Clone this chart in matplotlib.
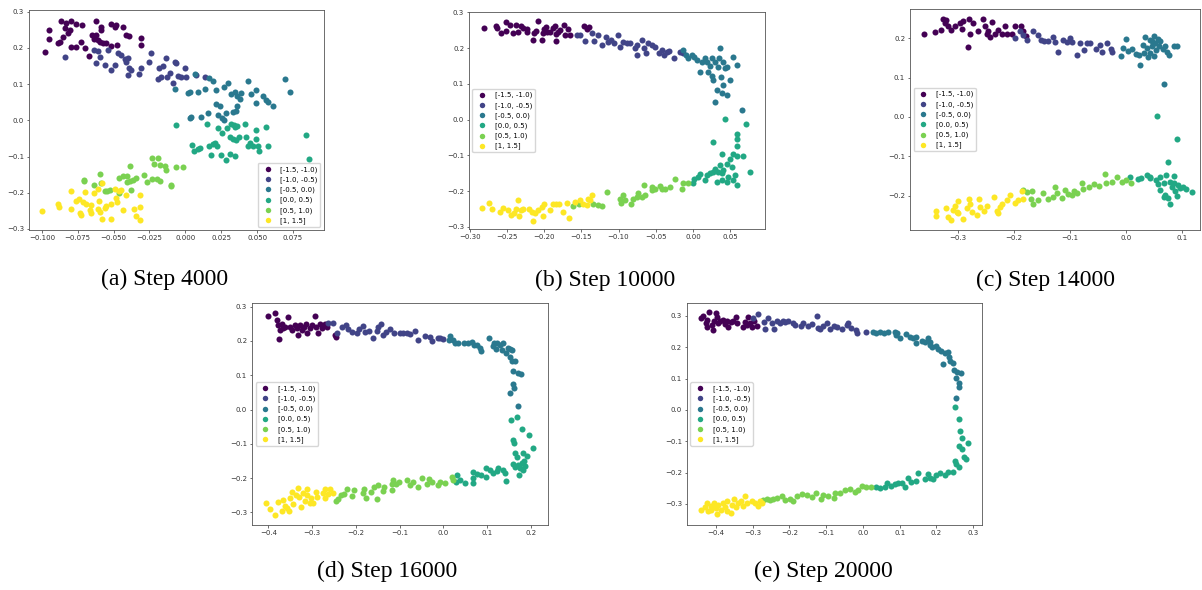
import numpy as np
import matplotlib
matplotlib.use("Agg")
import matplotlib.pyplot as plt
from matplotlib.ticker import MultipleLocator

labels = ['[-1.5, -1.0)', '[-1.0, -0.5)', '[-0.5, 0.0)', '[0.0, 0.5)', '[0.5, 1.0)', '[1, 1.5]']
captions = ['(a) Step 4000', '(b) Step 10000', '(c) Step 14000', '(d) Step 16000', '(e) Step 20000']

# ---- (a) step 4000 ----
a0 = [(-0.0977, 0.188), (-0.0947, 0.249), (-0.0951, 0.224), (-0.0865, 0.275), (-0.083, 0.268), (-0.0796, 0.275),
      (-0.0837, 0.256), (-0.0807, 0.249), (-0.082, 0.240), (-0.0761, 0.265), (-0.072, 0.263), (-0.0877, 0.217),
      (-0.089, 0.213), (-0.0854, 0.231), (-0.080, 0.203), (-0.076, 0.203), (-0.0726, 0.217), (-0.0696, 0.199),
      (-0.062, 0.275), (-0.0586, 0.259), (-0.059, 0.251), (-0.065, 0.236), (-0.062, 0.236), (-0.0637, 0.224),
      (-0.061, 0.222), (-0.0598, 0.217), (-0.0575, 0.215), (-0.067, 0.179), (-0.0517, 0.266), (-0.0493, 0.259),
      (-0.048, 0.263), (-0.0435, 0.257), (-0.0412, 0.236), (-0.039, 0.233), (-0.0475, 0.208), (-0.0556, 0.213),
      (-0.0308, 0.228), (-0.0312, 0.208), (-0.0515, 0.205)]
a1 = [(-0.0842, 0.174), (-0.0638, 0.194), (-0.061, 0.192), (-0.062, 0.158), (-0.0596, 0.176), (-0.0563, 0.153),
      (-0.054, 0.194), (-0.0517, 0.139), (-0.0493, 0.153), (-0.047, 0.185), (-0.0447, 0.180), (-0.0424, 0.169),
      (-0.0412, 0.162), (-0.040, 0.171), (-0.039, 0.146), (-0.0377, 0.139), (-0.040, 0.125), (-0.032, 0.128),
      (-0.0308, 0.144), (-0.0255, 0.162), (-0.024, 0.185), (-0.0191, 0.113), (-0.0184, 0.146), (-0.0157, 0.149),
      (-0.0168, 0.119), (-0.0133, 0.171), (-0.0126, 0.121), (-0.0110, 0.132), (-0.0087, 0.102), (-0.0075, 0.162),
      (-0.0063, 0.158), (-0.0052, 0.123), (-0.0028, 0.121), (-0.0005, 0.144), (0.0006, 0.121), (0.0071, 0.125),
      (0.0134, 0.121)]
a2 = [(-0.0073, 0.086), (0.0018, 0.075), (0.003, 0.077), (0.0064, 0.128), (0.0088, 0.079), (0.0134, 0.086),
      (0.0164, 0.118), (0.0192, 0.110), (0.0211, 0.084), (0.0216, 0.045), (0.0239, 0.040), (0.0267, 0.093),
      (0.030, 0.102), (0.032, 0.073), (0.0344, 0.079), (0.036, 0.066), (0.0378, 0.058), (0.039, 0.075),
      (0.0437, 0.110), (0.046, 0.073), (0.049, 0.084), (0.0495, 0.047), (0.0541, 0.067), (0.0564, 0.055),
      (0.0576, 0.052), (0.061, 0.040), (0.0692, 0.113), (0.0731, 0.079), (0.0041, 0.010), (0.011, 0.010),
      (0.0157, 0.020), (0.0227, 0.015), (0.0257, 0.006), (0.0267, 0.001), (0.0285, 0.020), (0.0332, 0.022),
      (0.035, 0.025), (0.036, 0.039), (0.003, 0.006)]
a3 = [(-0.0068, -0.013), (0.0148, -0.011), (0.0227, -0.022), (0.0257, -0.034), (0.0292, -0.022), (0.032, -0.010),
      (0.0343, -0.019), (0.036, -0.017), (0.0308, -0.045), (0.0332, -0.052), (0.0355, -0.054), (0.0373, -0.047),
      (0.0413, -0.010), (0.0425, -0.045), (0.0436, -0.072), (0.0453, -0.063), (0.0471, -0.071), (0.049, -0.052),
      (0.0506, -0.072), (0.0513, -0.086), (0.0495, -0.028), (0.0564, -0.019), (0.0576, -0.071), (0.0045, -0.068),
      (0.0057, -0.086), (0.0088, -0.080), (0.0099, -0.077), (0.0164, -0.071), (0.0192, -0.066), (0.0204, -0.062),
      (0.022, -0.072), (0.0180, -0.095), (0.025, -0.095), (0.028, -0.109), (0.0308, -0.092), (0.0343, -0.098),
      (0.0843, -0.040), (0.0862, -0.107), (0.0336, -0.012)]
a4 = [(-0.0384, -0.127), (-0.0233, -0.104), (-0.0191, -0.104), (-0.0221, -0.120), (-0.018, -0.123), (-0.0145, -0.127),
      (-0.0133, -0.137), (-0.0064, -0.129), (-0.0098, -0.181), (-0.0289, -0.152), (-0.0268, -0.171), (-0.0231, -0.161),
      (-0.0198, -0.161), (-0.0177, -0.169), (-0.0098, -0.179), (-0.0463, -0.160), (-0.0435, -0.155), (-0.0407, -0.155),
      (-0.0389, -0.169), (-0.0366, -0.164), (-0.0347, -0.160), (-0.0405, -0.171), (-0.0593, -0.149), (-0.0703, -0.169),
      (-0.0637, -0.178), (-0.0586, -0.173), (-0.0563, -0.194), (-0.0528, -0.192), (-0.0377, -0.192), (-0.0459, -0.201),
      (-0.0547, -0.196), (-0.0703, -0.165), (-0.0018, -0.130)]
a5 = [(-0.0998, -0.250), (-0.0888, -0.230), (-0.0881, -0.240), (-0.080, -0.194), (-0.0796, -0.244), (-0.0761, -0.224),
      (-0.0744, -0.217), (-0.0737, -0.256), (-0.0726, -0.261), (-0.0714, -0.227), (-0.0691, -0.230), (-0.0696, -0.199),
      (-0.0661, -0.233), (-0.0656, -0.256), (-0.0668, -0.249), (-0.0637, -0.201), (-0.061, -0.190), (-0.0605, -0.224),
      (-0.061, -0.245), (-0.0593, -0.254), (-0.0579, -0.173), (-0.0579, -0.274), (-0.0563, -0.242), (-0.0551, -0.238),
      (-0.0521, -0.230), (-0.0521, -0.273), (-0.0493, -0.190), (-0.0482, -0.215), (-0.0477, -0.227), (-0.0459, -0.196),
      (-0.0435, -0.247), (-0.0417, -0.206), (-0.0359, -0.245), (-0.0347, -0.265), (-0.0319, -0.206), (-0.0319, -0.240),
      (-0.0314, -0.276), (-0.0447, -0.192)]

# ---- (b) step 10000 ----
b0 = [(-0.2807, 0.257), (-0.2641, 0.262), (-0.2632, 0.255), (-0.2574, 0.241), (-0.2515, 0.274), (-0.2507, 0.249),
      (-0.2453, 0.265), (-0.2417, 0.241), (-0.2381, 0.265), (-0.2350, 0.246), (-0.2305, 0.262), (-0.2282, 0.255),
      (-0.2237, 0.246), (-0.2224, 0.252), (-0.2148, 0.223), (-0.2139, 0.241), (-0.208, 0.277), (-0.2035, 0.223),
      (-0.2013, 0.241), (-0.2004, 0.252), (-0.1977, 0.260), (-0.1959, 0.246), (-0.1923, 0.244), (-0.1887, 0.256),
      (-0.1856, 0.262), (-0.1843, 0.221), (-0.1834, 0.239), (-0.1789, 0.250), (-0.1735, 0.265), (-0.1721, 0.237),
      (-0.1677, 0.252), (-0.1654, 0.237), (-0.1466, 0.262), (-0.1430, 0.252), (-0.1394, 0.258), (-0.2103, 0.247),
      (-0.181, 0.246)]
b1 = [(-0.1564, 0.237), (-0.1520, 0.237), (-0.1452, 0.221), (-0.1363, 0.241), (-0.1331, 0.221), (-0.1273, 0.237),
      (-0.1228, 0.209), (-0.117, 0.232), (-0.1138, 0.218), (-0.1107, 0.224), (-0.1062, 0.213), (-0.1004, 0.237),
      (-0.0981, 0.204), (-0.0945, 0.218), (-0.0891, 0.213), (-0.0847, 0.215), (-0.0779, 0.199), (-0.0748, 0.209),
      (-0.0757, 0.181), (-0.0690, 0.223), (-0.0658, 0.199), (-0.0631, 0.185), (-0.060, 0.213), (-0.0555, 0.209),
      (-0.051, 0.204), (-0.0452, 0.185), (-0.042, 0.195), (-0.0389, 0.181), (-0.0353, 0.190), (-0.0317, 0.193),
      (-0.0255, 0.171), (-0.0174, 0.190), (-0.0129, 0.185)]
b2 = [(-0.0129, 0.196), (-0.0093, 0.181), (-0.0062, 0.171), (-0.0017, 0.181), (0.0015, 0.176), (0.0051, 0.168),
      (0.0096, 0.134), (0.0118, 0.162), (0.0163, 0.171), (0.0185, 0.162), (0.0207, 0.134), (0.023, 0.150),
      (0.0252, 0.171), (0.0252, 0.122), (0.0274, 0.111), (0.0297, 0.162), (0.0297, 0.049), (0.0319, 0.083),
      (0.0342, 0.148), (0.0355, 0.171), (0.0364, 0.199), (0.0373, 0.120), (0.0386, 0.073), (0.040, 0.097),
      (0.0409, 0.162), (0.0431, 0.143), (0.0454, 0.146), (0.0463, 0.069), (0.050, 0.111), (0.0544, 0.174),
      (0.0589, 0.153), (0.0656, 0.027)]
b3 = [(0.0432, 0.003), (0.0589, -0.039), (0.0589, -0.055), (0.0589, -0.074), (0.0715, -0.012), (0.0275, -0.062),
      (0.0387, -0.095), (0.0544, -0.095), (0.0589, -0.102), (0.0679, -0.102), (0.050, -0.111), (0.0454, -0.123),
      (0.0365, -0.127), (0.0522, -0.132), (0.0768, -0.146), (0.0409, -0.140), (0.0387, -0.150), (0.0342, -0.146),
      (0.0297, -0.137), (0.0274, -0.146), (0.023, -0.150), (0.0185, -0.155), (0.0163, -0.169), (0.0096, -0.152),
      (0.0073, -0.160), (0.0015, -0.165), (-0.0003, -0.177), (0.0567, -0.155), (0.0589, -0.183), (0.0477, -0.160),
      (0.0535, -0.169), (0.0454, -0.174), (0.0319, -0.174), (0.0387, -0.169)]
b4 = [(-0.0062, -0.177), (-0.0129, -0.177), (-0.0152, -0.193), (-0.0241, -0.165), (-0.0308, -0.188), (-0.0376, -0.195),
      (-0.0420, -0.193), (-0.0443, -0.186), (-0.051, -0.195), (-0.0555, -0.197), (-0.0645, -0.211), (-0.0690, -0.216),
      (-0.0757, -0.216), (-0.0802, -0.223), (-0.0838, -0.235), (-0.0914, -0.225), (-0.0936, -0.211), (-0.0972, -0.233),
      (-0.0981, -0.221), (-0.1152, -0.202), (-0.1228, -0.242), (-0.1273, -0.239), (-0.1340, -0.236), (-0.1529, -0.236),
      (-0.1618, -0.242), (-0.0658, -0.183), (-0.0734, -0.205), (-0.0555, -0.188)]
b5 = [(-0.283, -0.246), (-0.2744, -0.233), (-0.2695, -0.251), (-0.2596, -0.258), (-0.2551, -0.246), (-0.2484, -0.253),
      (-0.2439, -0.267), (-0.2408, -0.262), (-0.2372, -0.251), (-0.235, -0.225), (-0.2336, -0.270), (-0.2305, -0.253),
      (-0.2282, -0.249), (-0.2201, -0.249), (-0.217, -0.258), (-0.2148, -0.283), (-0.2125, -0.262), (-0.2080, -0.253),
      (-0.2035, -0.244), (-0.2022, -0.270), (-0.2004, -0.236), (-0.1923, -0.253), (-0.1878, -0.235), (-0.1842, -0.235),
      (-0.1798, -0.236), (-0.1744, -0.258), (-0.1699, -0.233), (-0.1663, -0.274), (-0.1587, -0.230), (-0.152, -0.225),
      (-0.1475, -0.235), (-0.1407, -0.221), (-0.1363, -0.211), (-0.1385, -0.225), (-0.143, -0.239)]

# ---- (c) step 14000 ----
c0 = [(-0.3615, 0.211), (-0.3418, 0.215), (-0.3299, 0.221), (-0.3269, 0.249), (-0.3239, 0.238), (-0.3209, 0.247),
      (-0.3179, 0.230), (-0.312, 0.221), (-0.306, 0.232), (-0.297, 0.238), (-0.2940, 0.223), (-0.2910, 0.244),
      (-0.2803, 0.248), (-0.2821, 0.177), (-0.2791, 0.211), (-0.2731, 0.238), (-0.2642, 0.219), (-0.2564, 0.248),
      (-0.2522, 0.230), (-0.2493, 0.211), (-0.2463, 0.219), (-0.2433, 0.203), (-0.2403, 0.242), (-0.2343, 0.211),
      (-0.2284, 0.221), (-0.2224, 0.210), (-0.2164, 0.231), (-0.2122, 0.211), (-0.2045, 0.210), (-0.1985, 0.231),
      (-0.1884, 0.231), (-0.1836, 0.217), (-0.1788, 0.206)]
c1 = [(-0.1985, 0.200), (-0.1896, 0.217), (-0.1836, 0.208), (-0.1776, 0.194), (-0.1669, 0.217), (-0.1567, 0.208),
      (-0.1526, 0.196), (-0.1466, 0.192), (-0.1388, 0.192), (-0.1310, 0.204), (-0.1269, 0.189), (-0.1209, 0.166),
      (-0.1120, 0.196), (-0.1048, 0.189), (-0.1012, 0.200), (-0.0970, 0.189), (-0.0881, 0.158), (-0.0833, 0.187),
      (-0.0749, 0.169), (-0.0701, 0.187), (-0.0642, 0.187), (-0.0534, 0.172), (-0.0475, 0.183), (-0.0433, 0.166),
      (-0.0343, 0.187), (-0.0272, 0.172), (-0.0254, 0.166)]
c2 = [(-0.0093, 0.155), (-0.0057, 0.175), (0.0003, 0.197), (0.0027, 0.168), (0.0104, 0.172), (0.0182, 0.160),
      (0.0224, 0.158), (0.0242, 0.131), (0.0301, 0.183), (0.0325, 0.162), (0.0343, 0.203), (0.0373, 0.175),
      (0.0385, 0.152), (0.0421, 0.194), (0.0433, 0.162), (0.0463, 0.179), (0.0493, 0.155), (0.0505, 0.206),
      (0.0522, 0.187), (0.054, 0.170), (0.0564, 0.197), (0.0582, 0.179), (0.0612, 0.192), (0.066, 0.172),
      (0.0701, 0.179), (0.0731, 0.166), (0.0761, 0.158), (0.0863, 0.181), (0.0899, 0.181), (0.0684, 0.084),
      (0.0463, 0.192)]
c3 = [(0.0552, 0.003), (0.0899, -0.057), (0.0743, -0.114), (0.0075, -0.152), (0.0206, -0.158), (0.0266, -0.156),
      (0.0373, -0.147), (0.0421, -0.152), (0.0433, -0.156), (0.054, -0.160), (0.0564, -0.170), (0.0612, -0.152),
      (0.060, -0.186), (0.0672, -0.169), (0.0701, -0.198), (0.0719, -0.147), (0.0743, -0.207), (0.0779, -0.164),
      (0.0791, -0.221), (0.0821, -0.177), (0.0851, -0.167), (0.0863, -0.150), (0.0881, -0.187), (0.0899, -0.201),
      (0.0922, -0.173), (0.097, -0.181), (0.1018, -0.179), (0.1060, -0.184), (0.1179, -0.190), (0.0684, -0.203)]
c4 = [(-0.1836, -0.186), (-0.1776, -0.190), (-0.1687, -0.187), (-0.1704, -0.209), (-0.1657, -0.221), (-0.1567, -0.211),
      (-0.1478, -0.192), (-0.1388, -0.209), (-0.1299, -0.203), (-0.1269, -0.177), (-0.1227, -0.192), (-0.1149, -0.206),
      (-0.1090, -0.186), (-0.103, -0.196), (-0.097, -0.198), (-0.0928, -0.187), (-0.0881, -0.192), (-0.0791, -0.167),
      (-0.0773, -0.184), (-0.0672, -0.179), (-0.0582, -0.171), (-0.0493, -0.175), (-0.0373, -0.145), (-0.0355, -0.168),
      (-0.0254, -0.164), (-0.0164, -0.153), (-0.0075, -0.164), (0.0003, -0.160), (0.0087, -0.167)]
c5 = [(-0.3388, -0.238), (-0.3388, -0.252), (-0.3221, -0.230), (-0.3179, -0.253), (-0.312, -0.262), (-0.3101, -0.236),
      (-0.306, -0.226), (-0.303, -0.241), (-0.300, -0.213), (-0.300, -0.245), (-0.291, -0.260), (-0.2851, -0.232),
      (-0.2803, -0.209), (-0.2791, -0.221), (-0.2761, -0.241), (-0.2672, -0.249), (-0.2624, -0.209), (-0.2612, -0.228),
      (-0.2540, -0.238), (-0.2493, -0.226), (-0.2361, -0.204), (-0.2313, -0.238), (-0.2284, -0.245), (-0.2254, -0.228),
      (-0.2224, -0.221), (-0.2134, -0.211), (-0.2075, -0.198), (-0.1985, -0.218), (-0.1925, -0.211), (-0.1866, -0.189),
      (-0.1836, -0.209)]

# ---- (d) step 16000 ----
d0 = [(-0.400, 0.274), (-0.3848, 0.283), (-0.381, 0.261), (-0.3772, 0.246), (-0.3749, 0.205), (-0.3733, 0.232),
      (-0.3695, 0.251), (-0.3619, 0.240), (-0.3543, 0.269), (-0.3505, 0.242), (-0.3467, 0.232), (-0.3391, 0.246),
      (-0.3337, 0.237), (-0.3314, 0.217), (-0.3276, 0.246), (-0.3238, 0.232), (-0.3185, 0.242), (-0.3109, 0.224),
      (-0.3048, 0.237), (-0.301, 0.246), (-0.2934, 0.273), (-0.2911, 0.240), (-0.2858, 0.224), (-0.2820, 0.249),
      (-0.2781, 0.237), (-0.2705, 0.249), (-0.2652, 0.240), (-0.2477, 0.217), (-0.2454, 0.211), (-0.3657, 0.237),
      (-0.3139, 0.251)]
d1 = [(-0.2629, 0.253), (-0.2515, 0.253), (-0.2424, 0.224), (-0.2325, 0.242), (-0.2226, 0.246), (-0.2172, 0.234),
      (-0.2096, 0.227), (-0.1980, 0.222), (-0.1921, 0.234), (-0.1845, 0.244), (-0.1792, 0.227), (-0.1692, 0.230),
      (-0.1616, 0.210), (-0.1525, 0.230), (-0.1487, 0.240), (-0.1434, 0.249), (-0.1372, 0.217), (-0.1311, 0.227),
      (-0.1220, 0.234), (-0.1128, 0.224), (-0.0992, 0.222), (-0.0916, 0.224), (-0.0839, 0.224), (-0.0763, 0.220),
      (-0.0649, 0.230), (-0.0573, 0.203), (-0.0421, 0.214), (-0.0306, 0.212), (-0.0269, 0.201), (-0.0131, 0.208),
      (-0.0078, 0.208), (-0.0002, 0.205)]
d2 = [(0.0151, 0.214), (0.0227, 0.203), (0.0136, 0.203), (0.0265, 0.195), (0.0341, 0.195), (0.0471, 0.195),
      (0.0570, 0.193), (0.0646, 0.198), (0.0699, 0.188), (0.0760, 0.188), (0.0836, 0.181), (0.0852, 0.172),
      (0.1050, 0.210), (0.1126, 0.185), (0.1157, 0.195), (0.1203, 0.178), (0.1233, 0.193), (0.1294, 0.188),
      (0.1332, 0.174), (0.137, 0.195), (0.1431, 0.166), (0.1484, 0.181), (0.1522, 0.178), (0.156, 0.174),
      (0.1522, 0.154), (0.156, 0.142), (0.1636, 0.142), (0.1583, 0.113), (0.1713, 0.107), (0.1766, 0.104),
      (0.1598, 0.074), (0.1614, 0.062), (0.1522, 0.047), (0.1713, 0.010)]
d3 = [(0.1537, -0.031), (0.1675, -0.021), (0.179, -0.058), (0.1964, -0.075), (0.2055, -0.111), (0.1598, -0.089),
      (0.1614, -0.097), (0.1636, -0.126), (0.1675, -0.138), (0.1812, -0.126), (0.1903, -0.136), (0.1713, -0.162),
      (0.1751, -0.172), (0.179, -0.157), (0.1812, -0.177), (0.1842, -0.149), (0.1736, -0.191), (0.1636, -0.167),
      (0.1583, -0.159), (0.1865, -0.164), (0.1408, -0.184), (0.1431, -0.209), (0.137, -0.177), (0.1233, -0.179),
      (0.1126, -0.186), (0.1065, -0.177), (0.0973, -0.172), (0.0973, -0.196), (0.0852, -0.191), (0.0775, -0.189),
      (0.0669, -0.182), (0.0669, -0.201), (0.0669, -0.214), (0.0494, -0.214), (0.0379, -0.206), (0.0303, -0.191),
      (0.0288, -0.211), (0.1256, -0.172)]
d4 = [(0.0189, -0.196), (0.0212, -0.206), (0.0036, -0.214), (-0.0078, -0.211), (-0.0116, -0.220), (-0.0269, -0.211),
      (-0.0321, -0.204), (-0.0382, -0.218), (-0.0496, -0.201), (-0.0573, -0.225), (-0.0687, -0.211), (-0.0763, -0.220),
      (-0.0839, -0.206), (-0.1007, -0.211), (-0.1083, -0.218), (-0.1159, -0.206), (-0.1182, -0.218), (-0.1357, -0.225),
      (-0.1387, -0.237), (-0.1487, -0.220), (-0.151, -0.262), (-0.1586, -0.225), (-0.1662, -0.240), (-0.1768, -0.259),
      (-0.1814, -0.233), (-0.1845, -0.243), (-0.2043, -0.235), (-0.2096, -0.253), (-0.2210, -0.233), (-0.2271, -0.247),
      (-0.2347, -0.250), (-0.2401, -0.262), (-0.2454, -0.266), (-0.1182, -0.235)]
d5 = [(-0.4053, -0.272), (-0.3962, -0.289), (-0.3848, -0.308), (-0.3772, -0.271), (-0.3695, -0.295), (-0.3657, -0.264),
      (-0.3619, -0.282), (-0.3566, -0.286), (-0.3520, -0.295), (-0.3505, -0.259), (-0.3467, -0.240), (-0.3444, -0.275),
      (-0.3368, -0.250), (-0.3314, -0.230), (-0.3292, -0.256), (-0.3261, -0.284), (-0.3200, -0.243), (-0.3162, -0.266),
      (-0.3124, -0.233), (-0.3109, -0.250), (-0.3033, -0.259), (-0.2972, -0.272), (-0.2918, -0.240), (-0.2888, -0.256),
      (-0.2759, -0.245), (-0.2705, -0.259), (-0.2629, -0.247), (-0.2591, -0.233), (-0.2515, -0.243), (-0.2705, -0.233),
      (-0.3048, -0.274)]

# ---- (e) step 20000 ----
e0 = [(-0.4417, 0.293), (-0.4345, 0.298), (-0.4272, 0.277), (-0.4254, 0.287), (-0.4236, 0.264), (-0.4181, 0.311),
      (-0.4118, 0.271), (-0.4091, 0.255), (-0.4054, 0.282), (-0.400, 0.309), (-0.3964, 0.296), (-0.3891, 0.282),
      (-0.3819, 0.287), (-0.3755, 0.274), (-0.3710, 0.282), (-0.3665, 0.264), (-0.3601, 0.279), (-0.3529, 0.285),
      (-0.3456, 0.296), (-0.3438, 0.277), (-0.3275, 0.264), (-0.3211, 0.279), (-0.3166, 0.271), (-0.3121, 0.296),
      (-0.3075, 0.277), (-0.3030, 0.264), (-0.2966, 0.282), (-0.2894, 0.268), (-0.3937, 0.277)]
e1 = [(-0.2985, 0.293), (-0.2849, 0.306), (-0.2694, 0.279), (-0.2667, 0.257), (-0.2577, 0.293), (-0.2486, 0.277),
      (-0.2422, 0.257), (-0.2350, 0.282), (-0.2259, 0.277), (-0.2187, 0.285), (-0.2123, 0.279), (-0.2033, 0.285),
      (-0.1915, 0.277), (-0.1851, 0.271), (-0.1697, 0.268), (-0.1625, 0.277), (-0.1489, 0.268), (-0.1398, 0.274),
      (-0.1244, 0.300), (-0.1217, 0.261), (-0.1171, 0.257), (-0.1081, 0.268), (-0.0990, 0.277), (-0.090, 0.257),
      (-0.0791, 0.268), (-0.0718, 0.264), (-0.0582, 0.257), (-0.0428, 0.271), (-0.0401, 0.277), (-0.0337, 0.261),
      (-0.0192, 0.255), (-0.0156, 0.245), (0.008, 0.250)]
e2 = [(0.0279, 0.250), (0.037, 0.245), (0.0479, 0.247), (0.0569, 0.245), (0.0687, 0.247), (0.0869, 0.250),
      (0.0896, 0.239), (0.0932, 0.245), (0.1005, 0.229), (0.1186, 0.243), (0.1277, 0.234), (0.1367, 0.229),
      (0.1440, 0.234), (0.1458, 0.213), (0.1621, 0.221), (0.1685, 0.218), (0.1776, 0.229), (0.1821, 0.215),
      (0.1839, 0.207), (0.1894, 0.202), (0.1984, 0.204), (0.2047, 0.194), (0.2138, 0.189), (0.2229, 0.183),
      (0.2319, 0.186), (0.2346, 0.170), (0.2383, 0.157), (0.2183, 0.147), (0.2455, 0.151), (0.2473, 0.128),
      (0.2564, 0.122), (0.2682, 0.117), (0.2546, 0.101), (0.2618, 0.087), (0.2618, 0.074), (0.2546, 0.037)]
e3 = [(0.2500, 0.009), (0.2618, -0.030), (0.2636, -0.066), (0.2709, -0.090), (0.2863, -0.106), (0.2618, -0.115),
      (0.2709, -0.126), (0.2817, -0.157), (0.2745, -0.149), (0.2500, -0.162), (0.2546, -0.172), (0.2618, -0.181),
      (0.2455, -0.197), (0.2319, -0.197), (0.2229, -0.207), (0.2093, -0.202), (0.2002, -0.207), (0.1912, -0.221),
      (0.1776, -0.204), (0.1685, -0.221), (0.1503, -0.202), (0.1458, -0.226), (0.1322, -0.229), (0.1231, -0.218),
      (0.1141, -0.247), (0.1077, -0.232), (0.0959, -0.232), (0.0869, -0.236), (0.0778, -0.243), (0.0660, -0.232),
      (0.0596, -0.245), (0.0479, -0.250), (0.037, -0.245), (0.1839, -0.218)]
e4 = [(0.0234, -0.245), (0.0098, -0.247), (-0.0011, -0.243), (-0.0129, -0.255), (-0.0219, -0.261), (-0.0355, -0.253),
      (-0.0491, -0.257), (-0.0627, -0.266), (-0.0791, -0.282), (-0.0763, -0.264), (-0.0945, -0.274), (-0.1081, -0.271),
      (-0.1153, -0.285), (-0.1280, -0.264), (-0.1398, -0.279), (-0.1534, -0.271), (-0.1670, -0.268), (-0.1806, -0.274),
      (-0.1915, -0.289), (-0.1987, -0.285), (-0.2123, -0.287), (-0.2214, -0.274), (-0.2350, -0.282), (-0.2441, -0.285),
      (-0.2531, -0.287), (-0.2622, -0.285), (-0.2713, -0.287)]
e5 = [(-0.4417, -0.319), (-0.4299, -0.309), (-0.4254, -0.298), (-0.4209, -0.324), (-0.4145, -0.319), (-0.4091, -0.306),
      (-0.4054, -0.296), (-0.400, -0.314), (-0.3964, -0.332), (-0.3937, -0.303), (-0.3873, -0.319), (-0.3819, -0.296),
      (-0.3755, -0.309), (-0.3710, -0.289), (-0.3692, -0.321), (-0.3601, -0.328), (-0.3574, -0.303), (-0.3510, -0.285),
      (-0.3456, -0.309), (-0.3393, -0.298), (-0.3329, -0.289), (-0.3275, -0.306), (-0.3211, -0.274), (-0.3166, -0.298),
      (-0.3030, -0.289), (-0.2939, -0.298), (-0.2849, -0.306), (-0.2803, -0.289), (-0.2758, -0.298), (-0.4145, -0.306)]

panels = [
    dict(groups=[a0, a1, a2, a3, a4, a5], rect=[0.0241, 0.6102, 0.2454, 0.3729],
         xlim=(-0.109, 0.0966), ylim=(-0.303, 0.305), xstep=0.025, loc='lower right', cap=(165, 285)),
    dict(groups=[b0, b1, b2, b3, b4, b5], rect=[0.3902, 0.6119, 0.2463, 0.3678],
         xlim=(-0.301, 0.097), ylim=(-0.306, 0.301), xstep=0.05, loc='center left', cap=(605, 286)),
    dict(groups=[c0, c1, c2, c3, c4, c5], rect=[0.7571, 0.6102, 0.2413, 0.3746],
         xlim=(-0.386, 0.132), ylim=(-0.287, 0.274), xstep=0.1, loc='center left', cap=(1046, 286)),
    dict(groups=[d0, d1, d2, d3, d4, d5], rect=[0.2097, 0.1102, 0.2463, 0.3763],
         xlim=(-0.437, 0.239), ylim=(-0.337, 0.311), xstep=0.1, loc='center left', cap=(387, 577)),
    dict(groups=[e0, e1, e2, e3, e4, e5], rect=[0.5715, 0.1102, 0.2454, 0.3763],
         xlim=(-0.479, 0.324), ylim=(-0.367, 0.341), xstep=0.1, loc='center left', cap=(823, 577)),
]

colors = plt.cm.viridis(np.linspace(0, 1, 6))

W, H = 1202, 590
fig = plt.figure(figsize=(W / 100, H / 100), dpi=100)

for p, title in zip(panels, captions):
    ax = fig.add_axes(p['rect'])
    for pts, c, lab in zip(p['groups'], colors, labels):
        pts = np.array(pts)
        ax.scatter(pts[:, 0], pts[:, 1], s=19, color=c, label=lab, linewidths=0)
    ax.set_xlim(*p['xlim'])
    ax.set_ylim(*p['ylim'])
    ax.xaxis.set_major_locator(MultipleLocator(p['xstep']))
    ax.yaxis.set_major_locator(MultipleLocator(0.1))
    ax.tick_params(labelsize=5, length=1.8, width=0.5, pad=1.7, colors='#333333')
    for sp in ax.spines.values():
        sp.set_linewidth(0.6)
        sp.set_color('#555555')
    ax.legend(loc=p['loc'], fontsize=5, framealpha=0.8, markerscale=0.9)
    cx, cy = p['cap']
    fig.text(cx / W, 1 - cy / H, title, ha='center', va='baseline',
             family='Liberation Serif', fontsize=17)

fig.savefig('out.png', dpi=100)
